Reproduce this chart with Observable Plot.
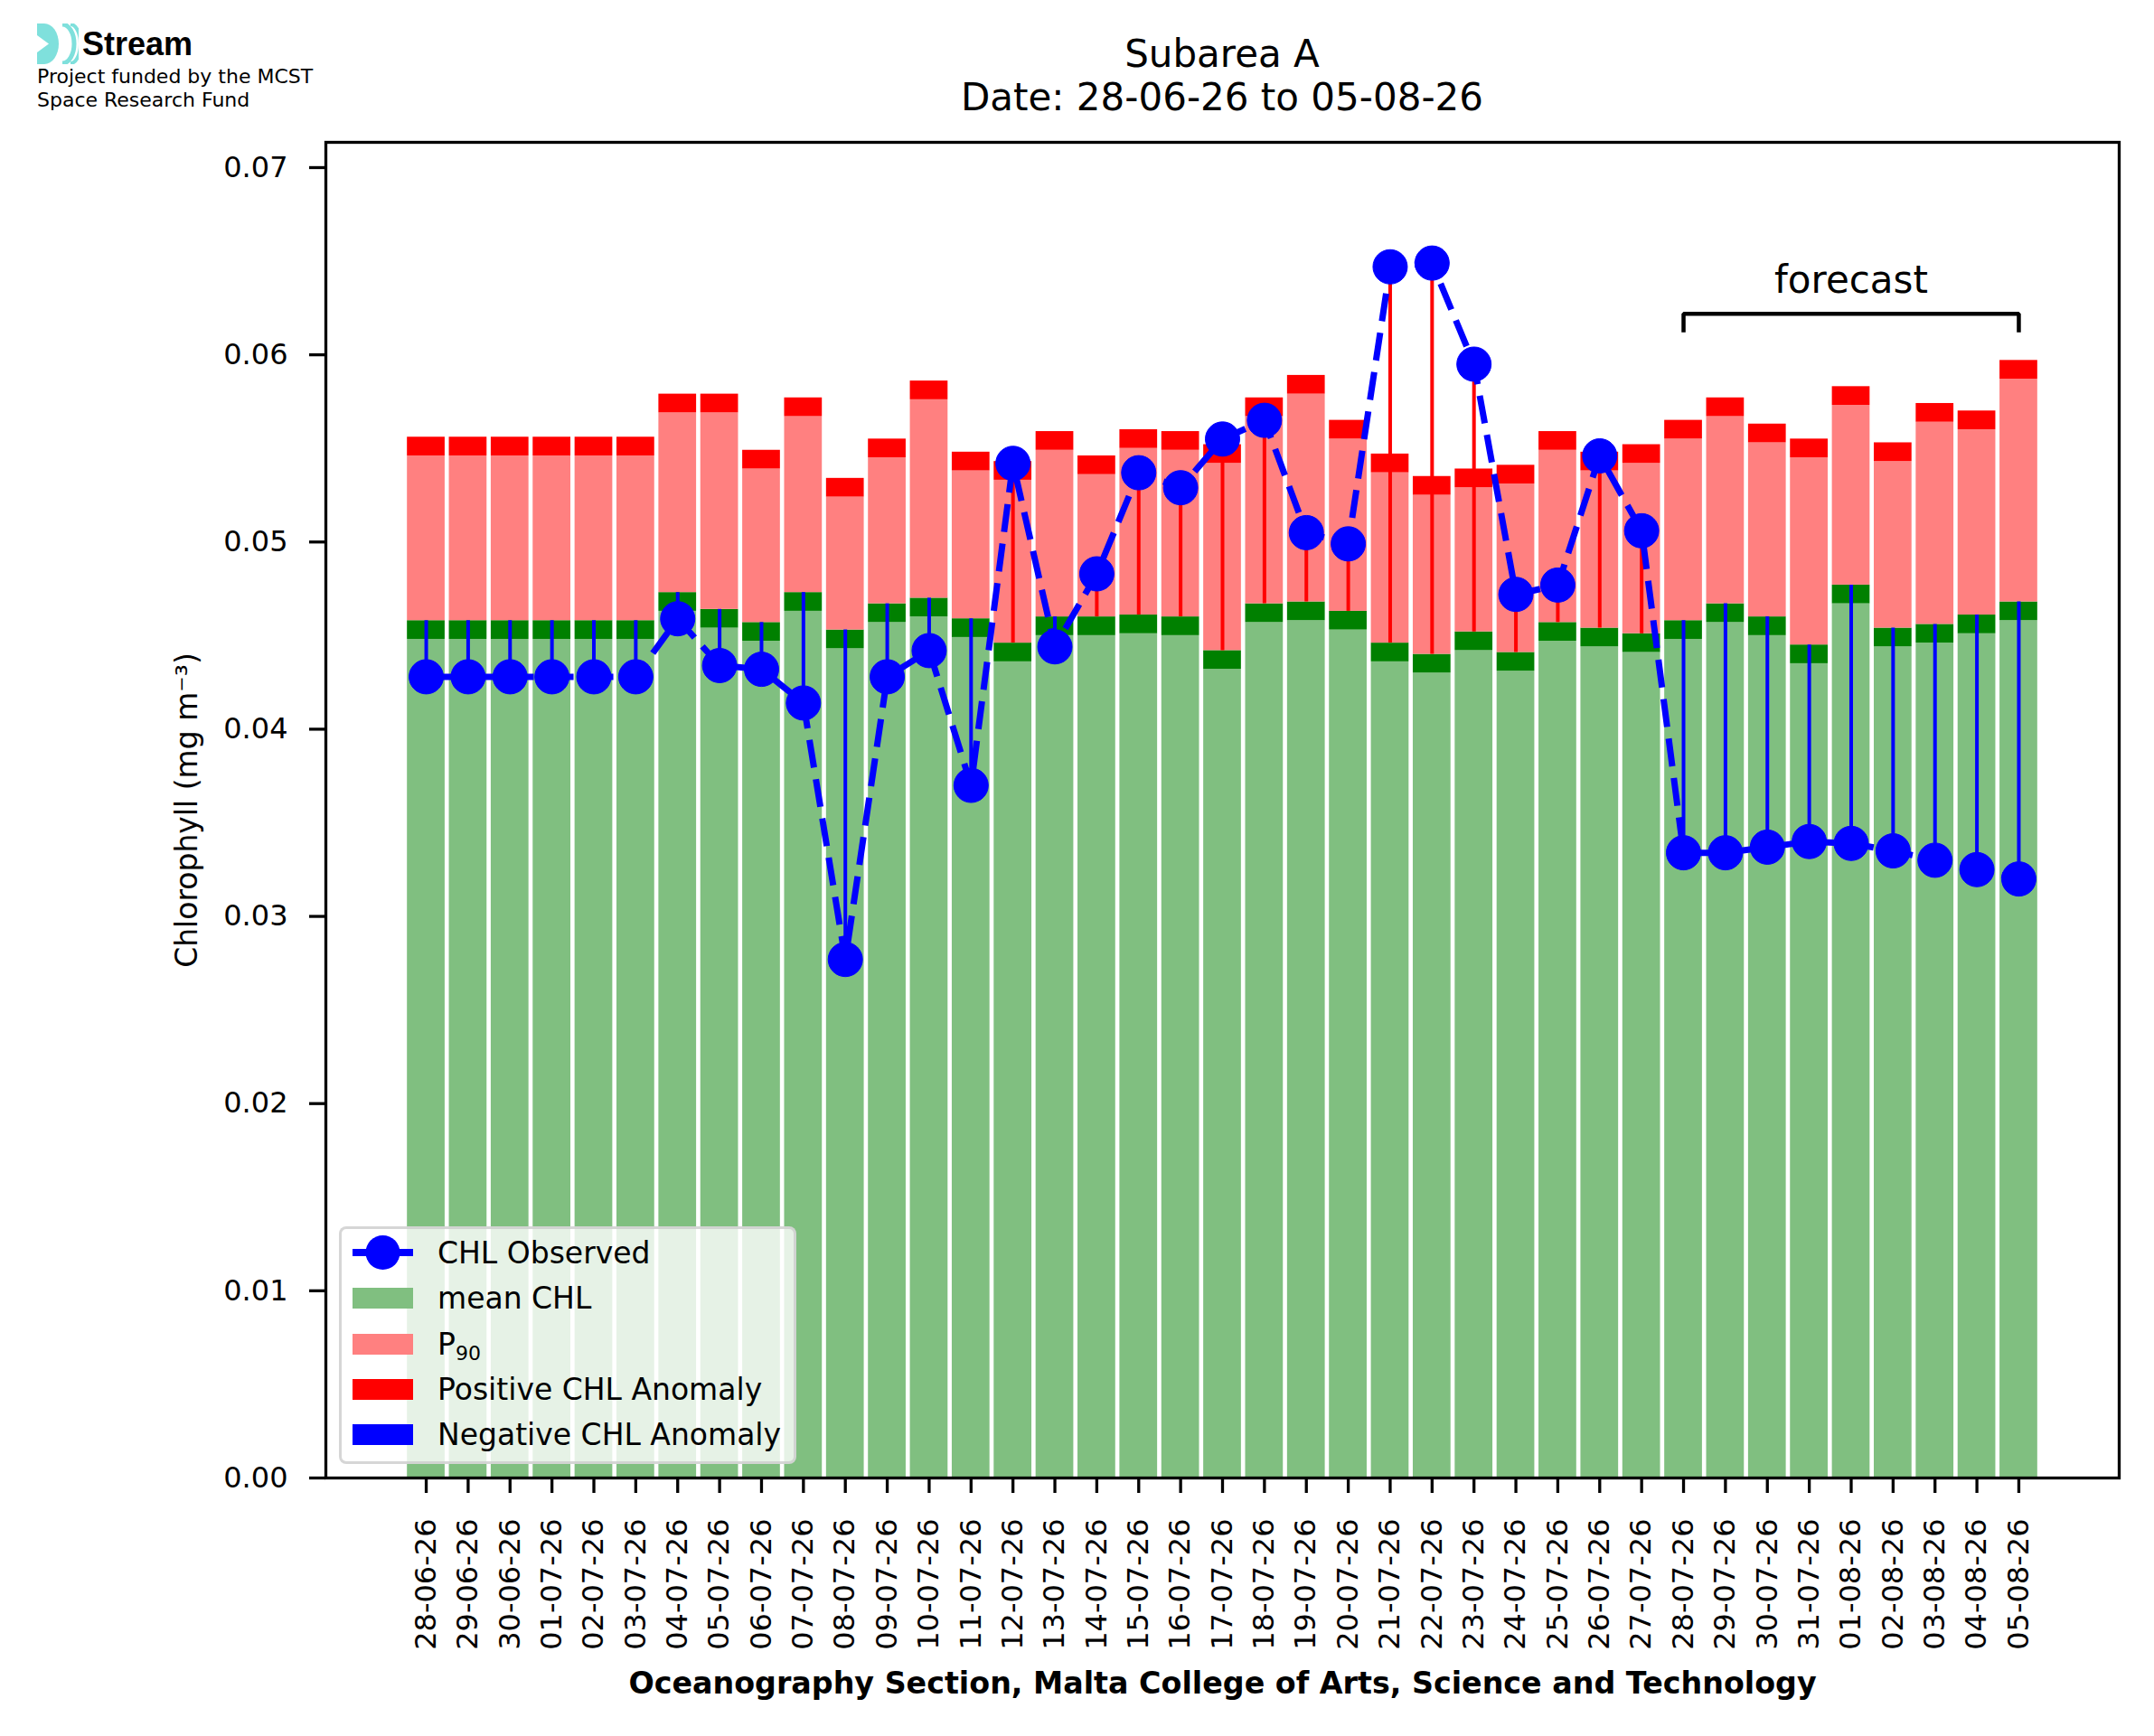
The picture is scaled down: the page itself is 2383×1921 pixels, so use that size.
<!DOCTYPE html>
<html>
<head>
<meta charset="utf-8">
<script src="https://cdn.jsdelivr.net/npm/d3@7"></script>
<script src="https://cdn.jsdelivr.net/npm/@observablehq/plot@0.6"></script>
<style>
  html, body { margin: 0; padding: 0; background: white; color: black; overflow: hidden; }
  #page { position: relative; width: 2383px; height: 1921px; font-family: "DejaVu Sans", sans-serif; }
  #header { position: relative; width: 2383px; height: 130px; }
  .abs { position: absolute; white-space: nowrap; }
  #title { left: 1352px; top: 35.5px; transform: translateX(-50%); text-align: center; font-size: 42px; line-height: 48px; }
  #brand { left: 91px; top: 31px; font-family: "Liberation Sans", Arial, sans-serif; font-weight: bold; font-size: 36px; line-height: 36px; }
  #funded { left: 41px; top: 72.4px; font-size: 22px; line-height: 26px; }
  #legend { left: 375px; top: 1357px; width: 500px; height: 257px; background: rgba(255,255,255,0.8);
            border: 3px solid rgba(204,204,204,0.8); border-radius: 8px; }
  .lg-patch { position: absolute; left: 12px; width: 67px; height: 23px; }
  .lg-text { position: absolute; left: 106px; font-size: 33px; line-height: 33px; white-space: nowrap; }
  .lg-text sub { font-size: 22px; vertical-align: -6px; line-height: 0; }
  #chart svg { display: block; }
</style>
</head>
<body>
<div id="page">
  <div id="header">
    <svg class="abs" style="left:41px;top:26px" width="46" height="45" viewBox="0 0 46 45">
      <path d="M0,0 H8 A16,22.5 0 0 1 8,45 H0 Z" fill="#7fe0dc"/>
      <polygon points="0,13 13,22.5 0,32" fill="white"/>
      <path d="M28,1 A13,21.5 0 0 1 28,44" stroke="#7fe0dc" stroke-width="5" fill="none"/>
      <path d="M37,1 A11,21.5 0 0 1 37,44" stroke="#7fe0dc" stroke-width="4" fill="none"/>
    </svg>
    <div class="abs" id="brand">Stream</div>
    <div class="abs" id="funded">Project funded by the MCST<br>Space Research Fund</div>
    <div class="abs" id="title">Subarea A<br>Date: 28-06-26 to 05-08-26</div>
  </div>
  <div id="chart"></div>
  <div class="abs" id="legend"></div>
</div>
<script>
// ---- data ----
const dates = ["28-06-26","29-06-26","30-06-26","01-07-26","02-07-26","03-07-26","04-07-26","05-07-26","06-07-26","07-07-26",
  "08-07-26","09-07-26","10-07-26","11-07-26","12-07-26","13-07-26","14-07-26","15-07-26","16-07-26","17-07-26",
  "18-07-26","19-07-26","20-07-26","21-07-26","22-07-26","23-07-26","24-07-26","25-07-26","26-07-26","27-07-26",
  "28-07-26","29-07-26","30-07-26","31-07-26","01-08-26","02-08-26","03-08-26","04-08-26","05-08-26"];
const meanChl = [0.0458,0.0458,0.0458,0.0458,0.0458,0.0458,0.0473,0.0464,0.0457,0.0473,
  0.0453,0.0467,0.0470,0.0459,0.0446,0.0460,0.0460,0.0461,0.0460,0.0442,
  0.0467,0.0468,0.0463,0.0446,0.0440,0.0452,0.0441,0.0457,0.0454,0.0451,
  0.0458,0.0467,0.0460,0.0445,0.0477,0.0454,0.0456,0.0461,0.0468];
const p90 = [0.0546,0.0546,0.0546,0.0546,0.0546,0.0546,0.0569,0.0569,0.0539,0.0567,
  0.0524,0.0545,0.0576,0.0538,0.0533,0.0549,0.0536,0.0550,0.0549,0.0542,
  0.0567,0.0579,0.0555,0.0537,0.0525,0.0529,0.0531,0.0549,0.0538,0.0542,
  0.0555,0.0567,0.0553,0.0545,0.0573,0.0543,0.0564,0.0560,0.0587];
const observed = [0.0428,0.0428,0.0428,0.0428,0.0428,0.0428,0.0459,0.0434,0.0432,0.0414,
  0.0277,0.0428,0.0442,0.0370,0.0542,0.0444,0.0483,0.0537,0.0529,0.0555,
  0.0565,0.0505,0.0499,0.0647,0.0649,0.0595,0.0472,0.0477,0.0546,0.0506,
  0.0334,0.0334,0.0337,0.0340,0.0339,0.0335,0.0330,0.0325,0.0320];
const yTicks = [0, 0.01, 0.02, 0.03, 0.04, 0.05, 0.06, 0.07];
const bandHeight = 0.001;           // thickness of the dark green / red strips
const bracketDates = ["28-07-26","28-07-26","05-08-26","05-08-26"];
const bracketLevels = [0.0612, 0.06219, 0.06219, 0.0612];
const forecastLabel = {date: "01-08-26", value: 0.0633, text: "forecast"};
const legendItems = [
  {kind: "line", color: "#0000ff", label: "CHL Observed"},
  {kind: "patch", color: "#80bf80", label: "mean CHL"},
  {kind: "patch", color: "#ff8080", label: "P<sub>90</sub>"},
  {kind: "patch", color: "#ff0000", label: "Positive CHL Anomaly"},
  {kind: "patch", color: "#0000ff", label: "Negative CHL Anomaly"}
];

const rows = dates.map((date, i) => ({date, mean: meanChl[i], p90: p90[i], obs: observed[i]}));
const bracket = bracketDates.map((d, i) => ({date: d, value: bracketLevels[i]}));

const chart = Plot.plot({
  width: 2383,
  height: 1791,
  marginLeft: 360,
  marginRight: 39,
  marginTop: 27,
  marginBottom: 286,
  style: {fontFamily: "DejaVu Sans", fontSize: "32px", background: "white", color: "black", overflow: "visible"},
  x: {type: "band", domain: dates, paddingInner: 0.1, paddingOuter: 1.945, align: 0.5, round: false},
  y: {domain: [0, 0.07135]},
  marks: [
    Plot.barY(rows, {x: "date", y1: 0, y2: d => d.mean - bandHeight, fill: "#80bf80"}),
    Plot.barY(rows, {x: "date", y1: d => d.mean - bandHeight, y2: "mean", fill: "#008000"}),
    Plot.barY(rows, {x: "date", y1: "mean", y2: "p90", fill: "#ff8080"}),
    Plot.barY(rows, {x: "date", y1: "p90", y2: d => d.p90 + bandHeight, fill: "#ff0000"}),
    Plot.ruleX(rows.filter(d => d.obs >= d.mean), {x: "date", y1: "obs", y2: "mean", stroke: "#ff0000", strokeWidth: 4}),
    Plot.ruleX(rows.filter(d => d.obs < d.mean), {x: "date", y1: "obs", y2: "mean", stroke: "#0000ff", strokeWidth: 4}),
    Plot.line(rows, {x: "date", y: "obs", stroke: "#0000ff", strokeWidth: 7, strokeDasharray: "31,13", strokeLinecap: "butt"}),
    Plot.dot(rows, {x: "date", y: "obs", r: 19, fill: "#0000ff", stroke: "#0000ff", strokeWidth: 1}),
    Plot.line(bracket, {x: "date", y: "value", stroke: "black", strokeWidth: 4.5, strokeLinejoin: "miter", strokeLinecap: "butt"}),
    Plot.text([forecastLabel], {x: "date", y: "value", text: "text", fontSize: 42, lineAnchor: "bottom", fill: "black"}),
    Plot.frame({stroke: "black", strokeWidth: 3.3}),
    Plot.axisY({ticks: yTicks, tickFormat: d3.format(".2f"), tickSize: 18, tickPadding: 24, strokeWidth: 3.3, label: null}),
    Plot.axisY({ticks: [], label: "Chlorophyll (mg m⁻³)", labelAnchor: "center", labelOffset: 166, labelArrow: "none", fontSize: 33}),
    Plot.axisX({tickRotate: -90, tickSize: 17, tickPadding: 28, strokeWidth: 3.3, label: null}),
    Plot.axisX({ticks: [], label: "Oceanography Section, Malta College of Arts, Science and Technology", labelAnchor: "center", labelOffset: 238, labelArrow: "none", fontWeight: "bold", fontSize: 33.3})
  ]
});
document.getElementById("chart").appendChild(chart);

// legend
const legend = document.getElementById("legend");
const rowCenters = [26, 76, 127, 177, 227];
legendItems.forEach((item, i) => {
  const c = rowCenters[i];
  if (item.kind === "line") {
    const s = document.createElementNS("http://www.w3.org/2000/svg", "svg");
    s.setAttribute("width", 67); s.setAttribute("height", 40);
    s.style.position = "absolute"; s.style.left = "12px"; s.style.top = (c - 20) + "px";
    s.innerHTML = `<line x1="0" x2="67" y1="20" y2="20" stroke="${item.color}" stroke-width="8"/><circle cx="33.5" cy="20" r="19" fill="${item.color}"/>`;
    legend.appendChild(s);
  } else {
    const p = document.createElement("div");
    p.className = "lg-patch";
    p.style.top = (c - 11.5) + "px";
    p.style.background = item.color;
    legend.appendChild(p);
  }
  const t = document.createElement("div");
  t.className = "lg-text";
  t.style.top = (c - 16) + "px";
  t.innerHTML = item.label;
  legend.appendChild(t);
});
</script>
</body>
</html>
